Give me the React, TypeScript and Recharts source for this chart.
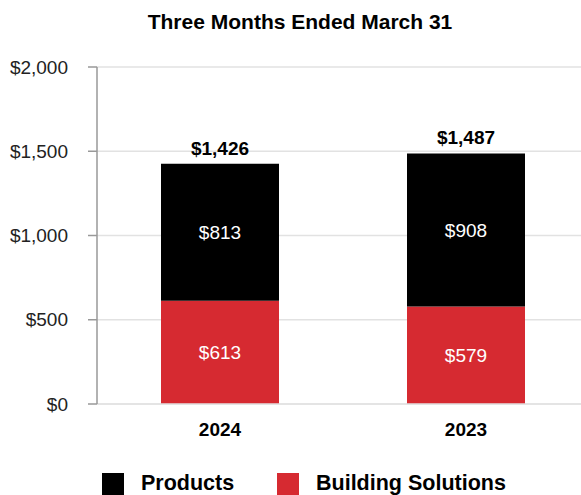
import { Bar, BarChart, CartesianGrid, LabelList, Legend, XAxis, YAxis } from 'recharts'

const periods = ['2024', '2023']
const products = [813, 908]
const buildingSolutions = [613, 579]
const totals = [1426, 1487]
const yTicks = [0, 500, 1000, 1500, 2000]

const RED = '#d62a31'
const FONT = '"Liberation Sans", Arial, sans-serif'

const data = periods.map((period, i) => ({
  period,
  products: products[i],
  building: buildingSolutions[i],
  total: totals[i],
}))

const money = (v: number) => `$${v.toLocaleString('en-US')}`

function LegendContent() {
  const items = [
    { name: 'Products', color: '#000', left: 102, textLeft: 141 },
    { name: 'Building Solutions', color: RED, left: 277, textLeft: 316 },
  ]
  return (
    <div style={{ position: 'relative', height: 30, fontFamily: FONT }}>
      {items.map(item => (
        <div key={item.name}>
          <span
            style={{
              position: 'absolute',
              left: item.left,
              top: 4,
              width: 22,
              height: 22,
              background: item.color,
            }}
          />
          <span
            style={{
              position: 'absolute',
              left: item.textLeft,
              top: 1,
              fontSize: 21.5,
              fontWeight: 700,
              color: '#000',
              lineHeight: '26px',
            }}
          >
            {item.name}
          </span>
        </div>
      ))}
    </div>
  )
}

export default function App() {
  return (
    <div
      style={{
        position: 'absolute',
        left: 0,
        top: 0,
        width: 581,
        height: 495,
        overflow: 'hidden',
        background: '#fff',
        fontFamily: FONT,
      }}
    >
      <div
        style={{
          position: 'absolute',
          left: 0,
          width: 600,
          top: 10,
          textAlign: 'center',
          fontSize: 21,
          fontWeight: 700,
          color: '#000',
        }}
      >
        Three Months Ended March 31
      </div>
      <BarChart
        width={600}
        height={495}
        data={data}
        margin={{ top: 67, right: 11, left: 0, bottom: -4 }}
        style={{ fontFamily: FONT }}
      >
        <CartesianGrid vertical={false} stroke="#e2e2e2" strokeWidth={1.5} />
        <XAxis
          dataKey="period"
          tickLine={false}
          axisLine={{ stroke: '#e2e2e2', strokeWidth: 1.5 }}
          height={65}
          tickMargin={13}
          tick={{ fill: '#000', fontSize: 19, fontWeight: 700 }}
        />
        <YAxis
          width={97}
          domain={[0, 2000]}
          ticks={yTicks}
          tickFormatter={money}
          tickSize={9}
          tickMargin={20}
          tickLine={{ stroke: '#999', strokeWidth: 1.5 }}
          axisLine={{ stroke: '#999', strokeWidth: 1.5 }}
          tick={{ fill: '#222', fontSize: 19 }}
        />
        <Legend verticalAlign="bottom" align="left" content={<LegendContent />} wrapperStyle={{ left: 0, width: 600 }} />
        <Bar dataKey="building" stackId="a" fill={RED} barSize={118} isAnimationActive={false}>
          <LabelList dataKey="building" position="center" formatter={money} fill="#fff" fontSize={19} />
        </Bar>
        <Bar dataKey="products" stackId="a" fill="#000" barSize={118} isAnimationActive={false}>
          <LabelList dataKey="products" position="center" formatter={money} fill="#fff" fontSize={19} />
          <LabelList
            dataKey="total"
            position="top"
            offset={9}
            formatter={money}
            fill="#000"
            fontSize={19}
            fontWeight={700}
          />
        </Bar>
      </BarChart>
    </div>
  )
}
